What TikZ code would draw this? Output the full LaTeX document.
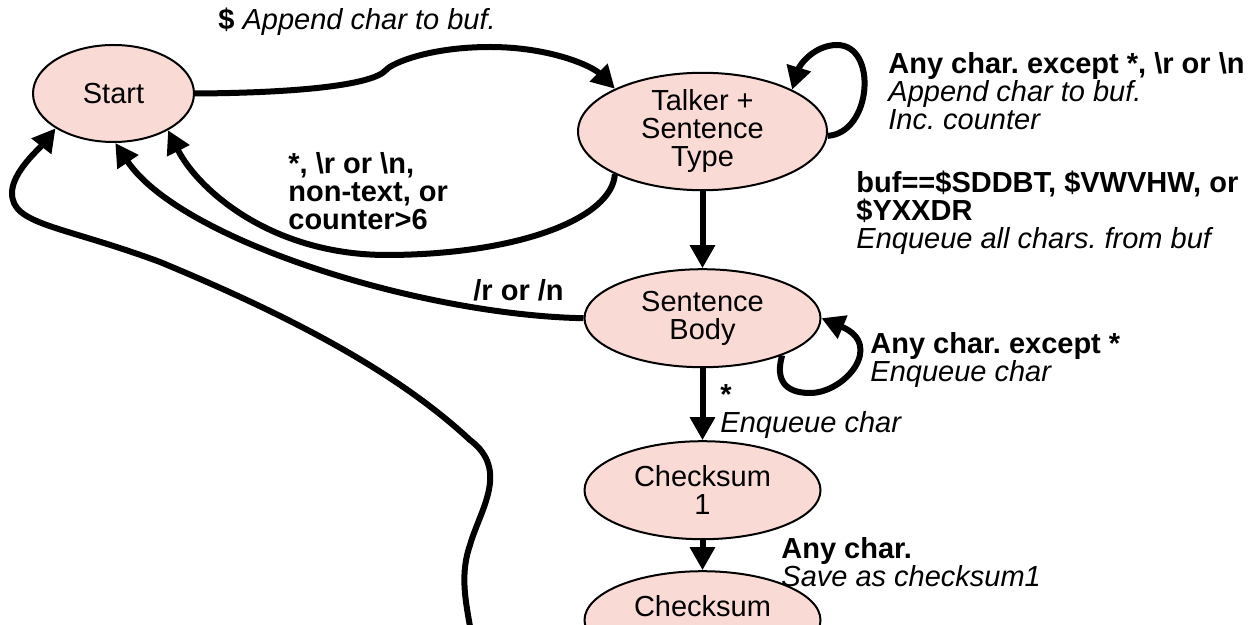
\documentclass[tikz,border=0pt]{standalone}
\usepackage{fontspec}
\setmainfont{Liberation Sans}
\usetikzlibrary{positioning}
\usetikzlibrary{shapes.geometric}
\usetikzlibrary{arrows.meta}
\definecolor{statefill}{RGB}{250,218,213}
\frenchspacing

\begin{document}
\begin{tikzpicture}[x=0.5pt, y=-0.5pt, >={Triangle[length=11.5pt, width=12pt]},
                    font=\fontsize{14.5}{14}\selectfont,
                    state/.style={ellipse, draw, line width=1pt, fill=statefill, align=center, inner sep=0pt,
                                  minimum width=118pt, minimum height=49pt},
                    trans/.style={->, line width=3pt},
                    cond/.style={anchor=north west, align=left, inner sep=0pt}]
    \useasboundingbox (0,0) rectangle (1252,625);
    \clip (0,0) rectangle (1252,625);
    \path
        node[state, minimum width=80.5pt, minimum height=48.5pt] (start) at (113.5,93.5) {Start}
        node[state, minimum width=124.5pt, minimum height=56.5pt] (talker) at (702.5,131.5) {Talker +\\Sentence\\Type}
        node[state, below=38.5pt of talker] (body) {Sentence\\Body}
        node[state, below=36pt of body] (chk1) {Checksum\\1}
        node[state, below=15pt of chk1] (chk2) {Checksum\\\phantom{2}};
    \coordinate (lowerend) at (474,650);

    % transitions
    \draw[trans] (start.east) .. controls (290,93) and (372,86) .. (386,70) .. controls (392,63) and (430,47) .. (490,47) .. controls (550,47) and (592,66) .. (talker.154);
    \draw[trans] (talker.-2) .. controls (872,133) and (878,45) .. (837,45) .. controls (815,45) and (800,64) .. (talker.25);
    \draw[trans] (talker.206) .. controls (612,218) and (520,254) .. (390,255) .. controls (270,256) and (197,188) .. (start.-34);
    \draw[trans] (talker) -- (body);
    \draw[trans] (body.west) .. controls (420,315) and (180,240) .. (start.-88);
    \draw[trans] (body.-25) .. controls (775,380) and (785,393) .. (810,393) .. controls (845,393) and (885,345) .. (body.east);
    \draw[trans] (body) -- (chk1);
    \draw[trans] (chk1) -- (chk2);
    \draw[trans] (lowerend) .. controls (468,610) and (458,580) .. (470,545) .. controls (480,510) and (510,470) .. (470,440)
        .. controls (400,375) and (300,320) .. (160,262) .. controls (60,225) and (12,225) .. (12,193)
        .. controls (12,172) and (40,148) .. (start.211);

    % conditions and actions
    \node[anchor=west, inner sep=0pt] (lbldollar) at (218,22) {\textbf{\$} \textit{Append char to buf.}};
    \node[cond] (lblloopt) at (888,52) {\textbf{Any char. except *, \textbackslash r or \textbackslash n}\\\textit{Append char to buf.}\\\textit{Inc. counter}};
    \node[cond] (lblbuf) at (856,171) {\textbf{buf==\$SDDBT, \$VWVHW, or}\\\textbf{\$YXXDR}\\\textit{Enqueue all chars. from buf}};
    \node[cond] (lblback) at (288,152) {\textbf{*, \textbackslash r or \textbackslash n,}\\\textbf{non-text, or}\\\textbf{counter>6}};
    \node[anchor=west, inner sep=0pt] (lblnl) at (473,290) {\textbf{/r or /n}};
    \node[cond] (lblstar) at (720,384) {\textbf{*}\\\textit{Enqueue char}};
    \node[cond] (lblloopb) at (870,332) {\textbf{Any char. except *}\\\textit{Enqueue char}};
    \node[cond] (lblsave) at (781,537) {\textbf{Any char.}\\\textit{Save as checksum1}};
\end{tikzpicture}
\end{document}
